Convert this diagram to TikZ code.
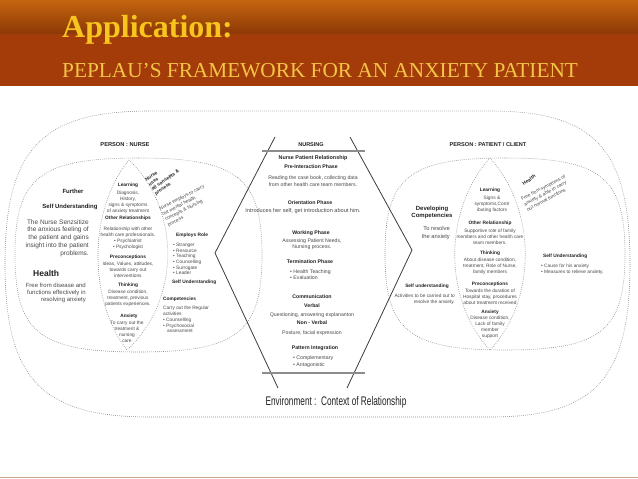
\documentclass[tikz,border=0pt]{standalone}
\usepackage{fontspec}
\setmainfont{Liberation Serif}
\setsansfont{Liberation Sans}
\newcommand\myfs[2]{\fontsize{#1}{#2}\selectfont}
\newcommand\supell[6][]{%
\draw[#1] ({#2},{#3+#5}) .. controls ({#2-#6*#4},{#3+#5}) and ({#2-#4},{#3+#6*#5}) .. ({#2-#4},{#3})
 .. controls ({#2-#4},{#3-#6*#5}) and ({#2-#6*#4},{#3-#5}) .. ({#2},{#3-#5})
 .. controls ({#2+#6*#4},{#3-#5}) and ({#2+#4},{#3-#6*#5}) .. ({#2+#4},{#3})
 .. controls ({#2+#4},{#3+#6*#5}) and ({#2+#6*#4},{#3+#5}) .. cycle;}
\definecolor{hdrtop}{HTML}{C4650F}
\definecolor{hdrmid}{HTML}{8C3806}
\definecolor{hdrbot}{HTML}{A43C0A}
\definecolor{titley}{HTML}{F7C51E}
\definecolor{suby}{HTML}{F3C445}
\definecolor{tanline}{HTML}{C9A68A}
\definecolor{dotgray}{HTML}{8A8A8A}
\definecolor{hexgray}{HTML}{3C3C3C}
\definecolor{bargray}{HTML}{8C8C8C}
\definecolor{txtc}{HTML}{4A4A4A}
\definecolor{boldc}{HTML}{222222}
\tikzset{
 dotln/.style={draw=dotgray, line width=0.6pt, dash pattern=on 0.7pt off 1.3pt},
 hexln/.style={draw=hexgray, line width=0.8pt},
 barln/.style={draw=bargray, line width=1.6pt},
 tx/.style={inner sep=0pt, text=txtc, align=center, font=\sffamily\myfs{4.8}{6}},
 tb/.style={inner sep=0pt, text=boldc, align=center, font=\sffamily\bfseries\myfs{4.8}{6}},
}
\begin{document}
\begin{tikzpicture}[x=1pt,y=1pt]
\useasboundingbox (0,0) rectangle (638,-479);
% header
\fill[white] (0,0) rectangle (638,-479);
\fill[top color=hdrtop, bottom color=hdrmid] (0,0) rectangle (638,-34);
\fill[hdrbot] (0,-34) rectangle (638,-86);
\node[anchor=base west, inner sep=0pt, text=titley, font=\bfseries\myfs{32}{32}] (title) at (62,-37) {Application:};
\node[anchor=base west, inner sep=0pt, text=suby, font=\myfs{21.3}{21.3}] (subtitle) at (62,-77) {PEPLAU’S FRAMEWORK FOR AN ANXIETY PATIENT};
\draw[tanline, line width=1.5pt] (0,-477.5) -- (638,-477.5);

% outer boundary
\draw[dotln] (150,-111) -- (490,-111)
  .. controls (595,-111) and (630,-149.25) .. (630,-264)
  .. controls (630,-378.75) and (595,-417) .. (490,-417)
  -- (150,-417)
  .. controls (41.25,-417) and (5,-378.75) .. (5,-264)
  .. controls (5,-149.25) and (41.25,-111) .. (150,-111) -- cycle;
% inner rounded shapes
\supell[dotln]{138.5}{-255}{123.5}{97}{0.8}
\supell[dotln]{505}{-254}{120}{96}{0.8}
% petals
\draw[dotln] (129,-160) .. controls (88,-210) and (88,-300) .. (127,-350);
\draw[dotln] (129,-160) .. controls (181,-210) and (181,-300) .. (127,-350);
\draw[dotln] (490,-158) .. controls (443,-210) and (443,-300) .. (490,-350);
\draw[dotln] (490,-158) .. controls (537,-210) and (537,-300) .. (490,-350);
% hexagon
\draw[hexln] (275,-137) -- (215,-253) -- (278,-388);
\draw[hexln] (350,-137) -- (412,-250) -- (347,-388);
\draw[barln] (262,-151) -- (365,-151);
\draw[barln] (262,-373) -- (365,-373);

% ---- left person : nurse
\node[tb, font=\sffamily\bfseries\myfs{5.7}{6}] (pn) at (125,-145) {PERSON : NURSE};
\node[tb, font=\sffamily\bfseries\myfs{6}{7}] (fur) at (73,-191) {Further};
\node[tb, font=\sffamily\bfseries\myfs{6}{7}] (selfu) at (70,-207) {Self Understanding};
\node[tx, align=right, anchor=east, font=\sffamily\myfs{6.5}{7.7}] (sens) at (89,-238) {The Nurse Senzsitize\\the anxious feeling of\\the patient and gains\\insight into the patient\\problems.};
\node[tb, anchor=west, font=\sffamily\bfseries\myfs{8.5}{9}] (health) at (33,-273) {Health};
\node[tx, align=right, anchor=east, font=\sffamily\myfs{6}{7}] (free) at (86,-293) {Free from disease and\\functions effectively in\\resolving anxiety};

\node[tb] (l1) at (128,-185) {Learning};
\node[tx] (l1t) at (128,-202) {Diagnosis,\\History,\\signs \& symptoms\\of anxiety treatment};
\node[tb] (l2) at (128,-218) {Other Relationships};
\node[tx] (l2t) at (128,-238) {Relationship with other\\health care professionals.\\• Psychiatrist\\• Psychologist};
\node[tb] (l3) at (128,-257) {Preconceptions};
\node[tx] (l3t) at (128,-270) {Ideas, Values, attitudes,\\towards carry out\\interventions};
\node[tb] (l4) at (128,-285) {Thinking};
\node[tx] (l4t) at (128,-298) {Disease condition,\\treatment, previous\\patients experiences.};
\node[tb] (l5) at (129,-316) {Anxiety};
\node[tx] (l5t) at (127,-332) {To carry out the\\treatment \&\\nursing\\care};

\node[tb, align=left, rotate=35, font=\sffamily\bfseries\myfs{4.8}{5.5}] (nuses) at (164,-178) {Nurse\\uses\\all concepts \&\\process};
\node[tx, align=left, rotate=27] (nemp) at (186,-206) {Nurse employs to carry\\out mental health\\concepts \& Nursing\\process};
\node[tb, anchor=west] (erole) at (176,-235) {Employs Role};
\node[tx, align=left, anchor=west, font=\sffamily\myfs{4.8}{5.6}] (roles) at (173,-259) {• Stranger\\• Resource\\• Teaching\\• Counselling\\• Surrogate\\• Leader};
\node[tb, anchor=west] (selfu2) at (172,-282) {Self Understanding};
\node[tb, anchor=west] (comp) at (163,-299) {Competencies};
\node[tx, align=left, anchor=west, font=\sffamily\myfs{4.8}{5.8}] (compt) at (163,-319.5) {Carry out the Regular\\activities\\• Counselling\\• Psychosocial\\\hspace*{4pt}assessment};

% ---- hexagon texts
\node[tb, font=\sffamily\bfseries\myfs{5.5}{6}] (nursing) at (311,-145) {NURSING};
\node[tb, font=\sffamily\bfseries\myfs{5.4}{6}] (npr) at (313,-158) {Nurse Patient Relationship};
\node[tb, font=\sffamily\bfseries\myfs{5.2}{6}] (pre) at (311,-167) {Pre-Interaction Phase};
\node[tx, font=\sffamily\myfs{5.2}{7}] (pret) at (313,-181.5) {Reading the case book, collecting data\\from other health care team members.};
\node[tb, font=\sffamily\bfseries\myfs{5.2}{6}] (ori) at (310,-203) {Orientation Phase};
\node[tx, font=\sffamily\myfs{5.6}{7}] (orit) at (303,-211) {Introduces her self, get introduction about him.};
\node[tb, font=\sffamily\bfseries\myfs{5.2}{6}] (work) at (311,-233) {Working Phase};
\node[tx, font=\sffamily\myfs{5.2}{6}] (workt) at (312,-244.5) {Assessing Patient Needs,\\Nursing process.};
\node[tb, font=\sffamily\bfseries\myfs{5.2}{6}] (term) at (310,-262) {Termination Phase};
\node[tx, align=left, anchor=west, font=\sffamily\myfs{5.2}{5.5}] (termt) at (290,-274.5) {• Health Teaching\\• Evaluation};
\node[tb, font=\sffamily\bfseries\myfs{5.2}{6}] (comm) at (312,-297) {Communication};
\node[tb, font=\sffamily\bfseries\myfs{5.2}{6}] (verb) at (312,-306) {Verbal};
\node[tx, font=\sffamily\myfs{5.2}{6}] (verbt) at (312,-315) {Questioning, answering explananton};
\node[tb, font=\sffamily\bfseries\myfs{5.2}{6}] (nverb) at (312,-323) {Non - Verbal};
\node[tx, font=\sffamily\myfs{5.2}{6}] (nverbt) at (312,-333) {Posture, facial expression};
\node[tb, font=\sffamily\bfseries\myfs{5.2}{6}] (patt) at (315,-348) {Pattern Integration};
\node[tx, align=left, anchor=west, font=\sffamily\myfs{5.2}{6.5}] (pattt) at (293,-361.5) {• Complementary\\• Antagonistic};
\node[inner sep=0pt, text=boldc] (env) at (336,-402) {\scalebox{0.66}[1]{\sffamily\myfs{12.5}{13}Environment :\ \ Context of Relationship}};

% ---- right person : patient
\node[tb, font=\sffamily\bfseries\myfs{5.6}{6}] (pp) at (488,-145) {PERSON : PATIENT / CLIENT};
\node[tb] (r1) at (490,-190) {Learning};
\node[tx] (r1t) at (492,-204) {Signs \&\\symptoms,Contr\\ibuting factors};
\node[tb] (r2) at (490,-223) {Other Relationship};
\node[tx] (r2t) at (490,-237) {Supportive role of family\\members and other health care\\team members.};
\node[tb] (r3) at (490,-253) {Thinking};
\node[tx] (r3t) at (490,-266.5) {About disease condition,\\treatment, Role of Nurse,\\family members};
\node[tb] (r4) at (490,-284) {Preconceptions};
\node[tx] (r4t) at (490,-297) {Towards the duration of\\Hospital stay, procedures\\about treatment received};
\node[tb] (r5) at (490,-312) {Anxiety};
\node[tx] (r5t) at (490,-327) {Disease condition,\\Lack of family\\member\\support};

\node[tb, font=\sffamily\bfseries\myfs{6}{7}] (dev) at (432,-212.5) {Developing\\Competencies};
\node[tx, align=right, anchor=east, font=\sffamily\myfs{5.8}{8}] (reso) at (450,-233) {To resolve\\the anxiety};
\node[tb] (selfr) at (427,-286) {Self understanding};
\node[tx, align=right, anchor=east] (act) at (455,-299) {Activities to be carried out to\\resolve the anxiety.};
\node[tb, rotate=35] (rh) at (529,-180) {Health};
\node[tx, align=left, rotate=28] (rht) at (546,-193) {Free from symptoms of\\anxiety \& able to carry\\out normal functions};
\node[tb, anchor=west] (selfr2) at (543,-256) {Self Understanding};
\node[tx, align=left, anchor=west] (cause) at (541,-269) {• Cause for his anxiety\\• Measures to relieve anxiety.};
\end{tikzpicture}
\end{document}
